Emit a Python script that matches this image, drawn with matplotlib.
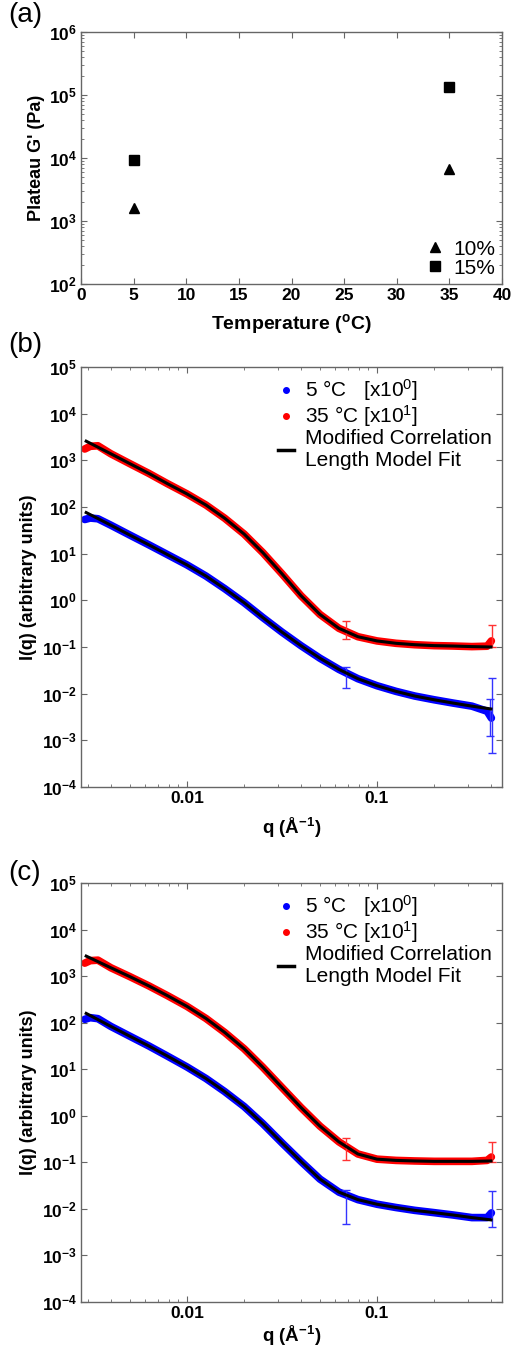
import matplotlib
matplotlib.use("Agg")
import matplotlib.pyplot as plt
import numpy as np
from matplotlib.lines import Line2D
from matplotlib.ticker import FuncFormatter, FixedLocator, LogLocator, NullFormatter, MultipleLocator

plt.rcParams['font.family'] = ['Liberation Sans', 'DejaVu Sans']
plt.rcParams['mathtext.fontset'] = 'custom'
plt.rcParams['mathtext.rm'] = 'Liberation Sans'
plt.rcParams['mathtext.bf'] = 'Liberation Sans:bold'
plt.rcParams['mathtext.default'] = 'rm'

# (a) plateau modulus
temps = [5, 35]
g_10 = [1600, 6700]
g_15 = [9300, 135000]

# (b), (c) SANS curves
q_fit = [0.00295, 0.00398, 0.005, 0.0063, 0.0079, 0.01, 0.0126, 0.0158, 0.02, 0.0251, 0.0316,
         0.0398, 0.0501, 0.0631, 0.0794, 0.1, 0.126, 0.158, 0.2, 0.251, 0.316, 0.398]
q_data = [0.0029, 0.0031, 0.0034, 0.00398, 0.005, 0.0063, 0.0079, 0.01, 0.0126, 0.0158, 0.02,
          0.0251, 0.0316, 0.0398, 0.0501, 0.0631, 0.0794, 0.1, 0.126, 0.158, 0.2, 0.251, 0.316, 0.38, 0.40]

b_red_fit = [2570, 1380, 851, 525, 316, 191, 110, 57.5, 26.3, 10.5, 3.72, 1.26, 0.50, 0.251, 0.166,
             0.135, 0.120, 0.112, 0.107, 0.105, 0.102, 0.100]
b_red_data = [1750, 2000, 2050, 1380, 851, 525, 316, 191, 110, 57.5, 26.3, 10.5, 3.72, 1.26, 0.50,
              0.251, 0.166, 0.135, 0.120, 0.112, 0.107, 0.105, 0.102, 0.104, 0.135]
b_blue_fit = [76, 40.7, 25.1, 15.5, 9.55, 5.75, 3.31, 1.78, 0.89, 0.427, 0.209, 0.107, 0.0575, 0.0331,
              0.0209, 0.0148, 0.0112, 0.0089, 0.0074, 0.0063, 0.0054, 0.0047]
b_blue_data = [54, 58, 56, 40.7, 25.1, 15.5, 9.55, 5.75, 3.31, 1.78, 0.89, 0.427, 0.209, 0.107, 0.0575,
               0.0331, 0.0209, 0.0148, 0.0112, 0.0089, 0.0074, 0.0063, 0.0054, 0.0042, 0.003]

c_red_fit = [2690, 1510, 977, 617, 380, 224, 123, 61.7, 27.5, 11.0, 4.07, 1.51, 0.60, 0.275, 0.151,
             0.117, 0.110, 0.107, 0.105, 0.105, 0.105, 0.107]
c_red_data = [1900, 2150, 2200, 1510, 977, 617, 380, 224, 123, 61.7, 27.5, 11.0, 4.07, 1.51, 0.60,
              0.275, 0.151, 0.117, 0.110, 0.107, 0.105, 0.105, 0.105, 0.11, 0.13]
c_blue_fit = [158, 83, 51.3, 31.6, 19.1, 11.2, 6.31, 3.31, 1.58, 0.676, 0.263, 0.105, 0.0437, 0.0229,
              0.0158, 0.0126, 0.0107, 0.0093, 0.0083, 0.0074, 0.0065, 0.0058]
c_blue_data = [118, 128, 122, 83, 51.3, 31.6, 19.1, 11.2, 6.31, 3.31, 1.58, 0.676, 0.263, 0.105, 0.0437,
               0.0229, 0.0158, 0.0126, 0.0107, 0.0093, 0.0083, 0.0074, 0.0065, 0.0065, 0.0082]

# error bars: q, centre, low, high
b_red_err = ([0.069, 0.405], [0.24, 0.14], [0.148, 0.10], [0.36, 0.30])
b_blue_err = ([0.069, 0.405, 0.395], [0.025, 0.0035, 0.0038], [0.0135, 0.00054, 0.00126], [0.038, 0.022, 0.0078])
c_red_err = ([0.069, 0.405], [0.21, 0.13], [0.115, 0.102], [0.34, 0.27])
c_blue_err = ([0.069, 0.405], [0.017, 0.008], [0.0047, 0.004], [0.026, 0.0245])

sans_yticks = [1e-4, 1e-3, 1e-2, 1e-1, 1e0, 1e1, 1e2, 1e3, 1e4, 1e5]
g_yticks = [1e2, 1e3, 1e4, 1e5, 1e6]

W, H = 515, 1357
fig = plt.figure(figsize=(W / 100, H / 100), dpi=100)

def ax_rect(top, bottom, left=81, right=502):
    return [left / W, 1 - bottom / H, (right - left) / W, (bottom - top) / H]

spine_col = '#666666'
bold_pow = FuncFormatter(lambda v, p: r'$\mathbf{10^{%d}}$' % round(np.log10(v)))

def style(ax):
    for s in ax.spines.values():
        s.set_color(spine_col)
        s.set_linewidth(1.0)
    ax.tick_params(which='both', direction='in', top=True, right=True, color=spine_col)
    ax.tick_params(which='major', length=4, labelsize=12.5, pad=3)
    ax.tick_params(which='minor', length=2)
    for lab in ax.get_xticklabels() + ax.get_yticklabels():
        lab.set_fontweight('bold')

# ---- (a)
ax = fig.add_axes(ax_rect(32, 284))
ax.plot(temps, g_10, '^', color='black', ms=7.5, ls='none', label='10%')
ax.plot(temps, g_15, 's', color='black', ms=7.5, ls='none', label='15%')
ax.set_yscale('log')
ax.set_xlim(0, 40)
ax.set_ylim(1e2, 1e6)
ax.xaxis.set_major_locator(FixedLocator(list(range(0, 41, 5))))
ax.yaxis.set_major_locator(FixedLocator(g_yticks))
ax.yaxis.set_major_formatter(bold_pow)
ax.yaxis.set_minor_locator(LogLocator(base=10, subs=np.arange(2, 10)))
ax.yaxis.set_minor_formatter(NullFormatter())
style(ax)
ax.set_xlabel(r'Temperature ($\mathbf{^{o}}$C)', fontsize=14, fontweight='bold', labelpad=6)
ax.set_ylabel("Plateau G' (Pa)", fontsize=13, fontweight='bold', labelpad=3)
ax.legend(loc='lower right', frameon=False, fontsize=15, handlelength=0.8, handletextpad=0.5,
          borderaxespad=0.1, labelspacing=0.0, borderpad=0.2)
fig.text(8 / W, 1 - 15 / H, '(a)', fontsize=20, va='center', ha='left')

# ---- (b), (c)
def sans_panel(top, bottom, red_d, red_f, blue_d, blue_f, red_e, blue_e, tag, tag_y, xpad):
    ax = fig.add_axes(ax_rect(top, bottom))
    ax.plot(q_data, blue_d, color='#0000ff', lw=5.5, solid_capstyle='round', solid_joinstyle='round')
    ax.plot(q_data, red_d, color='#ff0000', lw=5.5, solid_capstyle='round', solid_joinstyle='round')
    for (qq, cc, lo, hi), col in ((blue_e, '#3333ff'), (red_e, '#ff3333')):
        cc = np.array(cc)
        ax.errorbar(qq, cc, yerr=[cc - np.array(lo), np.array(hi) - cc], fmt='none', ecolor=col,
                    elinewidth=1, capsize=3, capthick=1)
    ax.plot(q_fit, blue_f, color='black', lw=2.2, solid_joinstyle='round')
    ax.plot(q_fit, red_f, color='black', lw=2.2, solid_joinstyle='round')
    ax.set_xscale('log')
    ax.set_yscale('log')
    ax.set_xlim(0.00277, 0.455)
    ax.set_ylim(1e-4, 1e5)
    ax.yaxis.set_major_locator(FixedLocator(sans_yticks))
    ax.yaxis.set_major_formatter(bold_pow)
    ax.yaxis.set_minor_locator(FixedLocator([]))
    ax.xaxis.set_major_locator(FixedLocator([0.01, 0.1]))
    ax.xaxis.set_major_formatter(FuncFormatter(lambda v, p: '0.01' if v < 0.05 else '0.1'))
    ax.xaxis.set_minor_locator(FixedLocator([0.003, 0.004, 0.005, 0.006, 0.007, 0.008, 0.009,
                                             0.02, 0.03, 0.04, 0.05, 0.06, 0.07, 0.08, 0.09,
                                             0.2, 0.3, 0.4]))
    ax.xaxis.set_minor_formatter(NullFormatter())
    style(ax)
    ax.set_xlabel(r'q ($\mathbf{\AA^{-1}}$)', fontsize=13.5, fontweight='bold', labelpad=xpad)
    ax.set_ylabel('I(q) (arbitrary units)', fontsize=13, fontweight='bold', labelpad=3)
    handles = [Line2D([], [], color='#0000ff', marker='o', ms=4, ls='none'),
               Line2D([], [], color='#ff0000', marker='o', ms=4, ls='none'),
               Line2D([], [], color='black', lw=2.5)]
    labels = [r'5 °C   [x10$^{0}$]', r'35 °C [x10$^{1}$]', 'Modified Correlation\nLength Model Fit']
    ax.legend(handles, labels, loc='upper right', frameon=False, fontsize=15, handlelength=0.8,
              handletextpad=0.5, labelspacing=0.0, borderaxespad=0.2, borderpad=0.3)
    fig.text(8 / W, 1 - tag_y / H, tag, fontsize=20, va='center', ha='left')

sans_panel(367, 787, b_red_data, b_red_fit, b_blue_data, b_blue_fit, b_red_err, b_blue_err, '(b)', 345, 7)
sans_panel(883, 1302, c_red_data, c_red_fit, c_blue_data, c_blue_fit, c_red_err, c_blue_err, '(c)', 873, 2)

fig.savefig('out.png', dpi=100)
